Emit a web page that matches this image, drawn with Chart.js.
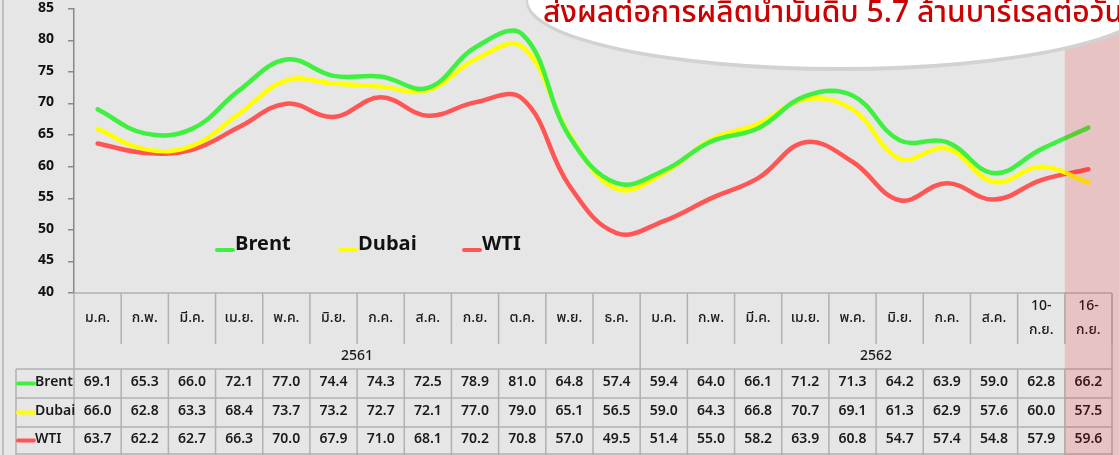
<!DOCTYPE html>
<html><head><meta charset="utf-8">
<script src="https://cdn.jsdelivr.net/npm/chart.js@4.4.1/dist/chart.umd.min.js"></script>
<style>html,body{margin:0;padding:0;background:#e6e6e6;overflow:hidden}</style>
</head><body>
<canvas id="c" width="1119" height="455"></canvas>
<script>
const months = ['ม.ค.','ก.พ.','มี.ค.','เม.ย.','พ.ค.','มิ.ย.','ก.ค.','ส.ค.','ก.ย.','ต.ค.','พ.ย.','ธ.ค.',
  'ม.ค.','ก.พ.','มี.ค.','เม.ย.','พ.ค.','มิ.ย.','ก.ค.','ส.ค.',['10-','ก.ย.'],['16-','ก.ย.']];
const yearLabels = ['2561','2562'];
const yearSpans = [12,10];
const seriesNames = ['Brent','Dubai','WTI'];
const seriesColors = ['#40f040','#ffff00','#ff5555'];
const brent = [69.1,65.3,66.0,72.1,77.0,74.4,74.3,72.5,78.9,81.0,64.8,57.4,59.4,64.0,66.1,71.2,71.3,64.2,63.9,59.0,62.8,66.2];
const dubai = [66.0,62.8,63.3,68.4,73.7,73.2,72.7,72.1,77.0,79.0,65.1,56.5,59.0,64.3,66.8,70.7,69.1,61.3,62.9,57.6,60.0,57.5];
const wti   = [63.7,62.2,62.7,66.3,70.0,67.9,71.0,68.1,70.2,70.8,57.0,49.5,51.4,55.0,58.2,63.9,60.8,54.7,57.4,54.8,57.9,59.6];
const yTicks = {min:40, max:85, step:5};
const highlightIndex = 21;
const calloutText = 'ส่งผลต่อการผลิตน้ำมันดิบ 5.7 ล้านบาร์เรลต่อวัน';

const FONT = '"Noto Sans Thai","Noto Sans","DejaVu Sans",sans-serif';
const seriesData = [brent, dubai, wti];

const tablePlugin = {
  id: 'tablePlugin',
  afterDraw(chart) {
    const ctx = chart.ctx;
    const xs = chart.scales.x;
    const n = months.length;
    const colW = xs.getPixelForValue(1) - xs.getPixelForValue(0);
    const left = xs.getPixelForValue(0) - colW / 2;
    const edge = i => left + i * colW;
    const right = edge(n);
    const top = chart.chartArea.bottom;
    const headBot = top + 51, yearBot = top + 76;
    const rowH = 29;
    const rows = [yearBot, yearBot + rowH, yearBot + 2 * rowH, 454];
    const tabLeft = 16;

    ctx.save();
    ctx.strokeStyle = '#b0b0b0';
    ctx.lineWidth = 1.5;
    const line = (x1, y1, x2, y2) => { ctx.beginPath(); ctx.moveTo(x1, y1); ctx.lineTo(x2, y2); ctx.stroke(); };
    line(3, 0, 3, 455);
    line(left, top, right, top);
    line(left, top, left, 455);
    for (let i = 1; i <= n; i++) line(edge(i), top, edge(i), headBot);
    line(right, top, right, 455);
    let acc = 0;
    for (let k = 0; k < yearSpans.length - 1; k++) { acc += yearSpans[k]; line(edge(acc), headBot, edge(acc), yearBot); }
    rows.forEach(y => line(tabLeft, y, right, y));
    line(tabLeft, yearBot, tabLeft, 455);
    for (let i = 1; i < n; i++) line(edge(i), yearBot, edge(i), 455);

    ctx.fillStyle = '#1a1a1a';
    ctx.textAlign = 'center';
    ctx.textBaseline = 'middle';
    ctx.font = '500 14px ' + FONT;
    months.forEach((m, i) => {
      const cx = edge(i) + colW / 2;
      if (Array.isArray(m)) { ctx.fillText(m[0], cx, top + 14); ctx.fillText(m[1], cx, top + 38); }
      else ctx.fillText(m, cx, top + 26);
    });
    acc = 0;
    yearLabels.forEach((y, k) => {
      const cx = (edge(acc) + edge(acc + yearSpans[k])) / 2;
      ctx.fillText(y, cx, (headBot + yearBot) / 2 + 1);
      acc += yearSpans[k];
    });
    ctx.font = '600 14px ' + FONT;
    seriesData.forEach((arr, r) => {
      const cy = (rows[r] + rows[r + 1]) / 2;
      arr.forEach((v, i) => ctx.fillText(v.toFixed(1), edge(i) + colW / 2, cy));
      ctx.strokeStyle = seriesColors[r];
      ctx.lineWidth = 4; ctx.lineCap = 'round';
      line(tabLeft + 2, cy, tabLeft + 18, cy);
      ctx.textAlign = 'left';
      ctx.fillStyle = '#1a1a1a';
      ctx.fillText(seriesNames[r], tabLeft + 19, cy);
      ctx.textAlign = 'center';
    });

    ctx.font = 'bold 20px ' + FONT;
    ctx.textAlign = 'left';
    const legX = [215, 338, 462];
    const legY = 246;
    seriesNames.forEach((s, k) => {
      ctx.strokeStyle = seriesColors[k];
      ctx.lineWidth = 4; ctx.lineCap = 'round';
      line(legX[k] + 2, legY + 4, legX[k] + 18, legY + 4);
      ctx.fillStyle = '#111';
      ctx.fillText(s, legX[k] + 20, legY);
    });

    ctx.fillStyle = 'rgba(240,0,0,0.15)';
    ctx.fillRect(edge(highlightIndex), 0, 1119 - edge(highlightIndex), 455);

    ctx.fillStyle = '#d2d2d2';
    ctx.beginPath(); ctx.ellipse(840, 2, 314, 69, 0, 0, Math.PI * 2); ctx.fill();
    ctx.fillStyle = '#ffffff';
    ctx.beginPath(); ctx.ellipse(840, 0, 312, 67, 0, 0, Math.PI * 2); ctx.fill();
    ctx.fillStyle = '#cc0000';
    ctx.font = '500 31px ' + FONT;
    ctx.textAlign = 'left';
    ctx.textBaseline = 'alphabetic';
    ctx.save();
    ctx.translate(543, 22);
    ctx.scale(0.97, 1);
    ctx.fillText(calloutText, 0, 0);
    ctx.restore();
    ctx.restore();
  }
};

new Chart(document.getElementById('c'), {
  type: 'line',
  data: {
    labels: months,
    datasets: seriesNames.map((s, k) => ({
      label: s, data: seriesData[k], borderColor: seriesColors[k], backgroundColor: seriesColors[k],
      borderWidth: 4.5, pointRadius: 0, tension: 0.4, borderCapStyle: 'round', fill: false
    }))
  },
  options: {
    responsive: false, animation: false, devicePixelRatio: 1,
    layout: { padding: { left: 0, right: 7, top: 9, bottom: 162 } },
    plugins: { legend: { display: false }, tooltip: { enabled: false } },
    scales: {
      x: { type: 'category', display: false, offset: true },
      y: {
        min: yTicks.min, max: yTicks.max,
        ticks: { stepSize: yTicks.step, color: '#111', padding: 14, font: { family: FONT, size: 14, weight: 'bold' } },
        grid: { drawOnChartArea: false, tickLength: 6, color: '#888', lineWidth: 1.5 },
        border: { display: true, color: '#888', width: 1.5 },
        afterFit(s) { s.width = 74; s.paddingTop = 0; s.paddingBottom = 0; }
      }
    }
  },
  plugins: [tablePlugin]
});
</script>
</body></html>
